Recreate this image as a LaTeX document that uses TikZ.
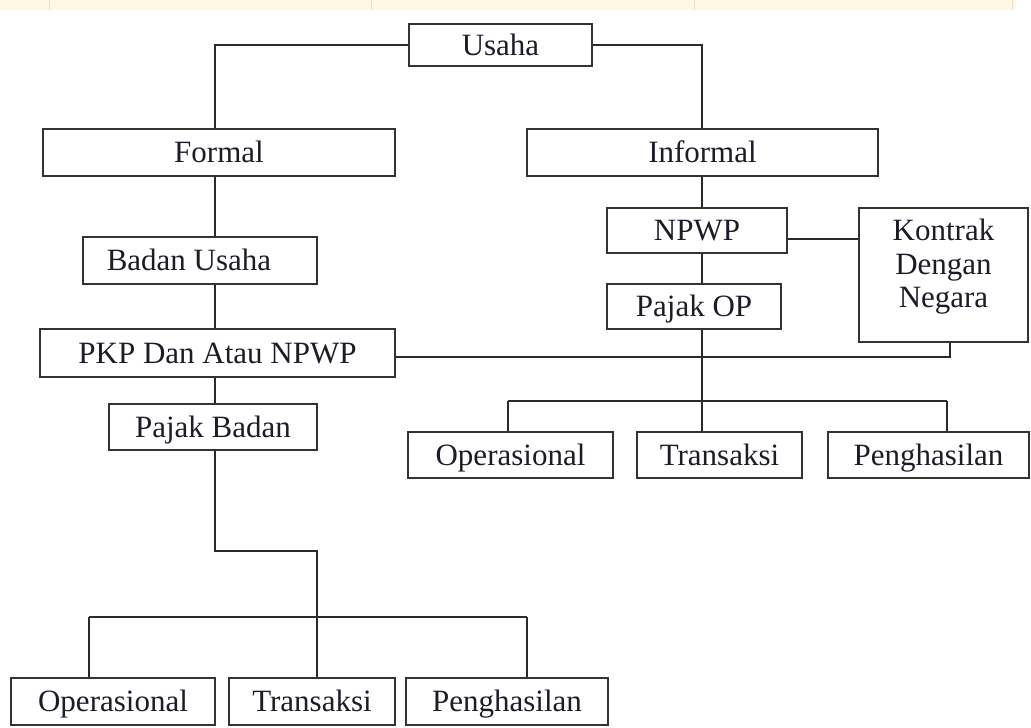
\documentclass[tikz,border=0pt]{standalone}
\usepackage{fontspec}
\setmainfont{Liberation Serif}
\definecolor{boxgray}{HTML}{333333}
\definecolor{linegray}{HTML}{2A2A2A}
\definecolor{cream}{HTML}{FFF8E6}
\definecolor{tanline}{HTML}{EFE0BE}
\definecolor{inkcol}{HTML}{1C1C28}
\begin{document}
\begin{tikzpicture}[x=1pt,y=-1pt,
  box/.style={draw=boxgray, line width=1.8pt, inner sep=0pt, text=inkcol,
              text height=26pt, text depth=6pt,
              font=\fontsize{31}{33.5}\selectfont},
  link/.style={draw=linegray, line width=1.4pt},
]
\useasboundingbox (0,0) rectangle (1031,728);

% strip of the table above the chart
\fill[cream] (0,0) rectangle (1016,10);
\foreach \xx in {49,371,694,1012}
  \draw[tanline, line width=1pt] (\xx,0) -- (\xx,10);

% boxes
\node[box, minimum width=183pt, minimum height=42pt] (usaha) at (500.5,45) {Usaha};
\node[box, minimum width=352pt, minimum height=47pt] (formal) at (219,152.5) {Formal};
\node[box, minimum width=351pt, minimum height=47pt] (informal) at (702.5,152.5) {Informal};
\node[box, minimum width=234pt, minimum height=47pt] (badan) at (200,260.5) {Badan Usaha\hspace*{22pt}};
\node[box, minimum width=355pt, minimum height=48pt] (pkp) at (217.5,353) {PKP Dan Atau NPWP};
\node[box, minimum width=208pt, minimum height=46pt] (pajakb) at (213,427) {Pajak Badan};
\node[box, minimum width=180pt, minimum height=45pt] (npwp) at (697,230.5) {NPWP};
\node[box, minimum width=174pt, minimum height=45pt] (pajakop) at (694,306.5) {Pajak OP};
\node[box, text height=, text depth=, minimum width=169pt, minimum height=134pt] (kontrak) at (943.5,275)
  {\parbox[c][124pt][t]{160pt}{\centering\vspace*{6pt}Kontrak\\Dengan\\Negara}};
\node[box, minimum width=205pt, minimum height=46pt] (opR) at (510.5,455) {Operasional};
\node[box, minimum width=165pt, minimum height=46pt] (trR) at (719.5,455) {Transaksi};
\node[box, minimum width=201pt, minimum height=46pt] (peR) at (928.5,455) {Penghasilan};
\node[box, minimum width=204pt, minimum height=47pt] (opL) at (113,701.5) {Operasional};
\node[box, minimum width=166pt, minimum height=47pt] (trL) at (312,701.5) {Transaksi};
\node[box, minimum width=202pt, minimum height=47pt] (peL) at (507,701.5) {Penghasilan};

% routing points
\coordinate (trunkL) at (215,0);
\coordinate (trunkR) at (702,0);
\coordinate (jogL) at (317,551);
\coordinate (busLa) at (89,617);
\coordinate (busLb) at (527,617);
\coordinate (busRa) at (508,401);
\coordinate (busRb) at (947,401);
\coordinate (kline) at (0,239);
\coordinate (pline) at (950,357);

% top split
\draw[link] (usaha.west) -| (formal.north -| trunkL);
\draw[link] (usaha.east) -| (informal.north -| trunkR);

% formal branch
\draw[link] (formal.south -| trunkL) -- (badan.north -| trunkL);
\draw[link] (badan.south -| trunkL) -- (pkp.north -| trunkL);
\draw[link] (pkp.south -| trunkL) -- (pajakb.north -| trunkL);
\draw[link] (pajakb.south -| trunkL) |- (jogL) -- (jogL |- trL.north);
\draw[link] (busLa) -- (busLb);
\draw[link] (busLa) -- (busLa |- opL.north);
\draw[link] (busLb) -- (busLb |- peL.north);

% informal branch
\draw[link] (informal.south -| trunkR) -- (npwp.north -| trunkR);
\draw[link] (npwp.south -| trunkR) -- (pajakop.north -| trunkR);
\draw[link] (pajakop.south -| trunkR) -- (trR.north -| trunkR);
\draw[link] (busRa) -- (busRb);
\draw[link] (busRa) -- (busRa |- opR.north);
\draw[link] (busRb) -- (busRb |- peR.north);

% links to the contract box
\draw[link] (npwp.east |- kline) -- (kontrak.west |- kline);
\draw[link] (pkp.east |- pline) -| (kontrak.south -| pline);
\end{tikzpicture}
\end{document}
